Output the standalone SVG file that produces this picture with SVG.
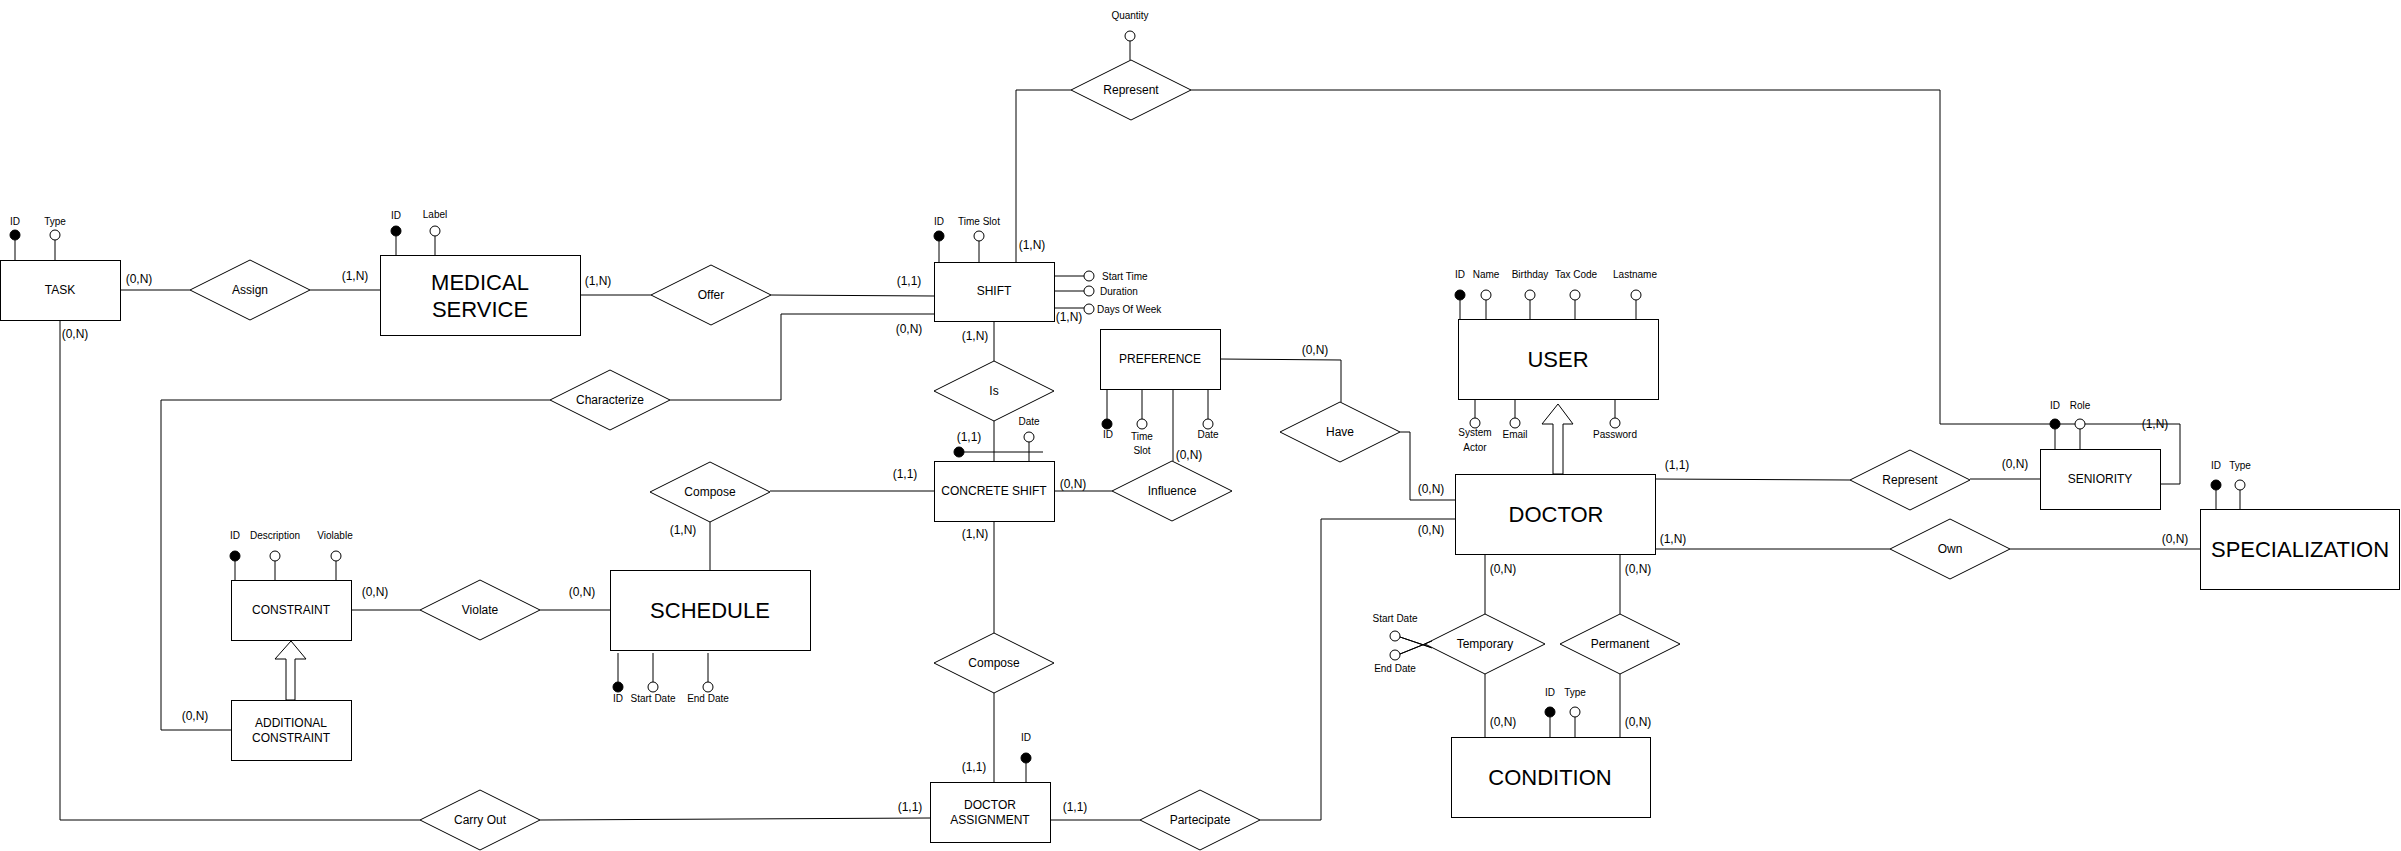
<svg xmlns="http://www.w3.org/2000/svg" width="2401" height="851" viewBox="0 0 2401 851">
<style>
.bg{fill:#fff}
.box{fill:#fff;stroke:#000;stroke-width:1}
.ln{fill:none;stroke:#000;stroke-width:1}
.k{fill:#000;stroke:#000;stroke-width:1}
.o{fill:#fff;stroke:#000;stroke-width:1}
text{font-family:"Liberation Sans",Arial,sans-serif;fill:#000;dominant-baseline:central}
.t{font-size:12px;text-anchor:middle}
.big{font-size:22px;text-anchor:middle}
.s{font-size:10px;text-anchor:middle}
.sl{font-size:10px;text-anchor:start}
.c{font-size:12px;text-anchor:middle}
</style>
<rect class="bg" x="0" y="0" width="2401" height="851"/>

<g id="connectors">
<path class="ln" d="M120,290H190M310,290H380"/>
<path class="ln" d="M580,295H651M771,295L934,296"/>
<path class="ln" d="M934,314H781V400H670"/>
<path class="ln" d="M550,400H161V730H231"/>
<path class="ln" d="M994,321V361M994,421V461"/>
<path class="ln" d="M934,491H770M710,522V570"/>
<path class="ln" d="M1054,491H1112M1173,389V461"/>
<path class="ln" d="M1220,359L1341,360V402"/>
<path class="ln" d="M1400,432H1410V500H1455"/>
<path class="ln" d="M1016,262V90H1071"/>
<path class="ln" d="M1191,90H1940V424H2180V484H2160"/>
<path class="ln" d="M1656,479L1850,480M1970,479H2040"/>
<path class="ln" d="M1656,549H1890M2010,549H2200"/>
<path class="ln" d="M351,610H420M540,610H610"/>
<path class="ln" d="M994,522V633M994,693V782"/>
<path class="ln" d="M60,320V820H420M540,820L930,818"/>
<path class="ln" d="M1050,820H1140M1260,820H1321V519H1455"/>
<path class="ln" d="M1485,554V614M1485,674V737M1620,554V614M1620,674V737"/>
<path class="ln" d="M1400,637L1430,647M1400,654L1430,642"/>
<path class="o" d="M1553,474V424H1542L1558,404L1573,424H1563V474Z"/>
<path class="o" d="M286,700V659H275L291,641L306,659H295V700Z"/>
<text class="c" x="139" y="279">(0,N)</text>
<text class="c" x="355" y="276">(1,N)</text>
<text class="c" x="75" y="334">(0,N)</text>
<text class="c" x="598" y="281">(1,N)</text>
<text class="c" x="909" y="281">(1,1)</text>
<text class="c" x="909" y="329">(0,N)</text>
<text class="c" x="1032" y="245">(1,N)</text>
<text class="c" x="1069" y="317">(1,N)</text>
<text class="c" x="975" y="336">(1,N)</text>
<text class="c" x="969" y="437">(1,1)</text>
<text class="c" x="905" y="474">(1,1)</text>
<text class="c" x="683" y="530">(1,N)</text>
<text class="c" x="975" y="534">(1,N)</text>
<text class="c" x="1073" y="484">(0,N)</text>
<text class="c" x="1189" y="455">(0,N)</text>
<text class="c" x="1315" y="350">(0,N)</text>
<text class="c" x="1431" y="489">(0,N)</text>
<text class="c" x="1431" y="530">(0,N)</text>
<text class="c" x="1677" y="465">(1,1)</text>
<text class="c" x="2015" y="464">(0,N)</text>
<text class="c" x="2155" y="424">(1,N)</text>
<text class="c" x="1673" y="539">(1,N)</text>
<text class="c" x="2175" y="539">(0,N)</text>
<text class="c" x="375" y="592">(0,N)</text>
<text class="c" x="582" y="592">(0,N)</text>
<text class="c" x="195" y="716">(0,N)</text>
<text class="c" x="974" y="767">(1,1)</text>
<text class="c" x="910" y="807">(1,1)</text>
<text class="c" x="1075" y="807">(1,1)</text>
<text class="c" x="1503" y="569">(0,N)</text>
<text class="c" x="1638" y="569">(0,N)</text>
<text class="c" x="1503" y="722">(0,N)</text>
<text class="c" x="1638" y="722">(0,N)</text>
</g>

<g id="task">
<rect class="box" x="0.5" y="260.5" width="120" height="60"/>
<text class="t" x="60" y="290">TASK</text>
<path class="ln" d="M15,240V260M55,240V260"/>
<circle class="k" cx="15" cy="235" r="5"/><circle class="o" cx="55" cy="235" r="5"/>
<text class="s" x="15" y="221">ID</text><text class="s" x="55" y="221">Type</text>
</g>

<g id="medical-service">
<rect class="box" x="380.5" y="255.5" width="200" height="80"/>
<text class="big" x="480" y="282">MEDICAL</text>
<text class="big" x="480" y="309">SERVICE</text>
<path class="ln" d="M396,236V255M435,236V255"/>
<circle class="k" cx="396" cy="231" r="5"/><circle class="o" cx="435" cy="231" r="5"/>
<text class="s" x="396" y="215">ID</text><text class="s" x="435" y="214">Label</text>
</g>

<g id="shift">
<rect class="box" x="934.5" y="262.5" width="120" height="59"/>
<text class="t" x="994" y="291">SHIFT</text>
<path class="ln" d="M939,241V262M979,241V262M1054,276H1084M1054,291H1084M1054,308H1084"/>
<circle class="k" cx="939" cy="236" r="5"/><circle class="o" cx="979" cy="236" r="5"/>
<circle class="o" cx="1089" cy="276" r="5"/><circle class="o" cx="1089" cy="291" r="5"/><circle class="o" cx="1089" cy="309" r="5"/>
<text class="s" x="939" y="221">ID</text><text class="s" x="979" y="221">Time Slot</text>
<text class="sl" x="1102" y="276">Start Time</text>
<text class="sl" x="1100" y="291">Duration</text>
<text class="sl" x="1097" y="309">Days Of Week</text>
</g>

<g id="concrete-shift">
<rect class="box" x="934.5" y="461.5" width="120" height="60"/>
<text class="t" x="994" y="491">CONCRETE SHIFT</text>
<path class="ln" d="M959,452H1043M1029,442V462"/>
<circle class="k" cx="959" cy="452" r="5"/><circle class="o" cx="1029" cy="437" r="5"/>
<text class="s" x="1029" y="421">Date</text>
</g>

<g id="preference">
<rect class="box" x="1100.5" y="329.5" width="120" height="60"/>
<text class="t" x="1160" y="359">PREFERENCE</text>
<path class="ln" d="M1107,389V419M1142,389V419M1208,389V419"/>
<circle class="k" cx="1107" cy="424" r="5"/><circle class="o" cx="1142" cy="424" r="5"/><circle class="o" cx="1208" cy="424" r="5"/>
<text class="s" x="1108" y="434">ID</text>
<text class="s" x="1142" y="436">Time</text><text class="s" x="1142" y="450">Slot</text>
<text class="s" x="1208" y="434">Date</text>
</g>

<g id="user">
<rect class="box" x="1458.5" y="319.5" width="200" height="80"/>
<text class="big" x="1558" y="359">USER</text>
<path class="ln" d="M1460,300V319M1486,300V319M1530,300V319M1575,300V319M1636,300V319M1475,399V418M1515,399V418M1615,399V418"/>
<circle class="k" cx="1460" cy="295" r="5"/><circle class="o" cx="1486" cy="295" r="5"/><circle class="o" cx="1530" cy="295" r="5"/><circle class="o" cx="1575" cy="295" r="5"/><circle class="o" cx="1636" cy="295" r="5"/>
<circle class="o" cx="1475" cy="423" r="5"/><circle class="o" cx="1515" cy="423" r="5"/><circle class="o" cx="1615" cy="423" r="5"/>
<text class="s" x="1460" y="274">ID</text><text class="s" x="1486" y="274">Name</text><text class="s" x="1530" y="274">Birthday</text><text class="s" x="1576" y="274">Tax Code</text><text class="s" x="1635" y="274">Lastname</text>
<text class="s" x="1475" y="432">System</text><text class="s" x="1475" y="447">Actor</text>
<text class="s" x="1515" y="434">Email</text><text class="s" x="1615" y="434">Password</text>
</g>

<g id="doctor">
<rect class="box" x="1455.5" y="474.5" width="200" height="80"/>
<text class="big" x="1556" y="514">DOCTOR</text>
</g>

<g id="seniority">
<rect class="box" x="2040.5" y="449.5" width="120" height="60"/>
<text class="t" x="2100" y="479">SENIORITY</text>
<path class="ln" d="M2055,429V449M2080,429V449"/>
<circle class="k" cx="2055" cy="424" r="5"/><circle class="o" cx="2080" cy="424" r="5"/>
<text class="s" x="2055" y="405">ID</text><text class="s" x="2080" y="405">Role</text>
</g>

<g id="specialization">
<rect class="box" x="2200.5" y="509.5" width="199" height="80"/>
<text class="big" x="2300" y="549">SPECIALIZATION</text>
<path class="ln" d="M2216,490V509M2240,490V509"/>
<circle class="k" cx="2216" cy="485" r="5"/><circle class="o" cx="2240" cy="485" r="5"/>
<text class="s" x="2216" y="465">ID</text><text class="s" x="2240" y="465">Type</text>
</g>

<g id="constraint">
<rect class="box" x="231.5" y="580.5" width="120" height="60"/>
<text class="t" x="291" y="610">CONSTRAINT</text>
<path class="ln" d="M235,561V580M275,561V580M336,561V580"/>
<circle class="k" cx="235" cy="556" r="5"/><circle class="o" cx="275" cy="556" r="5"/><circle class="o" cx="336" cy="556" r="5"/>
<text class="s" x="235" y="535">ID</text><text class="s" x="275" y="535">Description</text><text class="s" x="335" y="535">Violable</text>
</g>

<g id="additional-constraint">
<rect class="box" x="231.5" y="700.5" width="120" height="60"/>
<text class="t" x="291" y="723">ADDITIONAL</text>
<text class="t" x="291" y="738">CONSTRAINT</text>
</g>

<g id="schedule">
<rect class="box" x="610.5" y="570.5" width="200" height="80"/>
<text class="big" x="710" y="610">SCHEDULE</text>
<path class="ln" d="M618,653V682M653,653V682M708,653V682"/>
<circle class="k" cx="618" cy="687" r="5"/><circle class="o" cx="653" cy="687" r="5"/><circle class="o" cx="708" cy="687" r="5"/>
<text class="s" x="618" y="698">ID</text><text class="s" x="653" y="698">Start Date</text><text class="s" x="708" y="698">End Date</text>
</g>

<g id="condition">
<rect class="box" x="1451.5" y="737.5" width="199" height="80"/>
<text class="big" x="1550" y="777">CONDITION</text>
<path class="ln" d="M1550,717V737M1575,717V737"/>
<circle class="k" cx="1550" cy="712" r="5"/><circle class="o" cx="1575" cy="712" r="5"/>
<text class="s" x="1550" y="692">ID</text><text class="s" x="1575" y="692">Type</text>
</g>

<g id="doctor-assignment">
<rect class="box" x="930.5" y="782.5" width="120" height="60"/>
<text class="t" x="990" y="805">DOCTOR</text>
<text class="t" x="990" y="820">ASSIGNMENT</text>
<path class="ln" d="M1026,763V782"/>
<circle class="k" cx="1026" cy="758" r="5"/>
<text class="s" x="1026" y="737">ID</text>
</g>

<g id="assign"><path class="box" d="M190,290L250,260L310,290L250,320Z"/><text class="t" x="250" y="290">Assign</text></g>
<g id="offer"><path class="box" d="M651,295L711,265L771,295L711,325Z"/><text class="t" x="711" y="295">Offer</text></g>
<g id="characterize"><path class="box" d="M550,400L610,370L670,400L610,430Z"/><text class="t" x="610" y="400">Characterize</text></g>
<g id="is"><path class="box" d="M934,391L994,361L1054,391L994,421Z"/><text class="t" x="994" y="391">Is</text></g>
<g id="compose-schedule"><path class="box" d="M650,492L710,462L770,492L710,522Z"/><text class="t" x="710" y="492">Compose</text></g>
<g id="influence"><path class="box" d="M1112,491L1172,461L1232,491L1172,521Z"/><text class="t" x="1172" y="491">Influence</text></g>
<g id="have"><path class="box" d="M1280,432L1340,402L1400,432L1340,462Z"/><text class="t" x="1340" y="432">Have</text></g>
<g id="represent-shift">
<path class="ln" d="M1130,41V60"/>
<circle class="o" cx="1130" cy="36" r="5"/>
<text class="s" x="1130" y="15">Quantity</text>
<path class="box" d="M1071,90L1131,60L1191,90L1131,120Z"/><text class="t" x="1131" y="90">Represent</text></g>
<g id="represent-doctor"><path class="box" d="M1850,480L1910,450L1970,480L1910,510Z"/><text class="t" x="1910" y="480">Represent</text></g>
<g id="own"><path class="box" d="M1890,549L1950,519L2010,549L1950,579Z"/><text class="t" x="1950" y="549">Own</text></g>
<g id="violate"><path class="box" d="M420,610L480,580L540,610L480,640Z"/><text class="t" x="480" y="610">Violate</text></g>
<g id="compose-assignment"><path class="box" d="M934,663L994,633L1054,663L994,693Z"/><text class="t" x="994" y="663">Compose</text></g>
<g id="temporary">
<path class="box" d="M1425,644L1485,614L1545,644L1485,674Z"/><text class="t" x="1485" y="644">Temporary</text>
<path class="ln" d="M1400,637L1432,648M1400,654L1432,641"/>
<circle class="o" cx="1395" cy="636" r="5"/><circle class="o" cx="1395" cy="655" r="5"/>
<text class="s" x="1395" y="618">Start Date</text><text class="s" x="1395" y="668">End Date</text>
</g>
<g id="permanent"><path class="box" d="M1560,644L1620,614L1680,644L1620,674Z"/><text class="t" x="1620" y="644">Permanent</text></g>
<g id="carry-out"><path class="box" d="M420,820L480,790L540,820L480,850Z"/><text class="t" x="480" y="820">Carry Out</text></g>
<g id="partecipate"><path class="box" d="M1140,820L1200,790L1260,820L1200,850Z"/><text class="t" x="1200" y="820">Partecipate</text></g>
</svg>
